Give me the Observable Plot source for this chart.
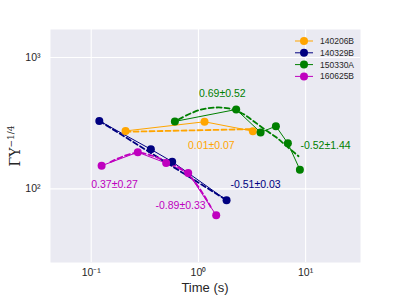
<!DOCTYPE html>
<html><head><meta charset="utf-8">
<script src="https://cdn.jsdelivr.net/npm/d3@7"></script>
<script src="https://cdn.jsdelivr.net/npm/@observablehq/plot@0.6"></script>
<style>body{margin:0;background:#fff}#c{position:relative;width:400px;height:300px}</style>
</head><body><div id="c"></div>
<script>
// ---- data ----
const seriesNames = ["140206B", "140329B", "150330A", "160625B"];
const seriesColors = ["#FFA500", "#000080", "#008000", "#BF00BF"];

const t140206B = [0.209, 1.14, 3.22];
const y140206B = [276, 324, 275];
const t140329B = [0.119, 0.36, 0.569, 1.83];
const y140329B = [329, 200, 161, 82];
const t150330A = [0.603, 2.25, 3.80, 5.28, 6.83, 8.84];
const y150330A = [326, 402, 269, 300, 222, 140];
const t160625B = [0.125, 0.272, 0.50, 0.803, 1.465];
const y160625B = [150, 190, 157, 132, 63];

// fitted (dashed) curves
const fitT140206B = [0.209, 3.22];
const fitY140206B = [272, 285];
const fitT140329B = [0.119, 1.83];
const fitY140329B = [329, 82];
const fitT150330A = [0.656, 1.01, 1.445, 1.92, 2.56, 3.18, 4.23, 5.24, 6.49, 8.59];
const fitY150330A = [339, 397, 416, 409, 375, 333, 280, 249, 215, 177];
const fitT160625B = [0.151, 0.268, 0.512, 0.786, 1.047, 1.30];
const fitY160625B = [160, 188, 161, 131, 98, 73];

// slope annotations
const labelText = ["0.01±0.07", "-0.51±0.03", "0.69±0.52", "-0.52±1.44", "0.37±0.27", "-0.89±0.33"];
const labelSeries = [0, 1, 2, 2, 3, 3];
const labelT = [0.80, 1.99, 1.67, 8.96, 0.100, 0.398];
const labelY = [212, 107, 532, 212, 107, 75];
const labelAnchor = ["start", "start", "middle", "start", "start", "start"];

const xTicks = [0.1, 1, 10];
const xTickLabels = ["10⁻¹", "10⁰", "10¹"];
const yTicks = [100, 1000];
const yTickLabels = ["10²", "10³"];

// ---- tables ----
const ts = [t140206B, t140329B, t150330A, t160625B];
const ys = [y140206B, y140329B, y150330A, y160625B];
const fts = [fitT140206B, fitT140329B, fitT150330A, fitT160625B];
const fys = [fitY140206B, fitY140329B, fitY150330A, fitY160625B];
const pts = [], fits = [];
seriesNames.forEach((s, i) => {
  ts[i].forEach((t, j) => pts.push({s, t, y: ys[i][j]}));
  fts[i].forEach((t, j) => fits.push({s, t, y: fys[i][j]}));
});
const labels = labelText.map((txt, i) => ({txt, s: seriesNames[labelSeries[i]], t: labelT[i], y: labelY[i], a: labelAnchor[i]}));

const font = "Liberation Sans, Arial, sans-serif";
const chart = Plot.plot({
  width: 400, height: 300,
  marginLeft: 50, marginRight: 40, marginTop: 29, marginBottom: 38,
  style: {fontFamily: font, background: "white"},
  x: {type: "log", domain: [0.0417, 32.5]},
  y: {type: "log", domain: [27.5, 1633]},
  color: {domain: seriesNames, range: seriesColors},
  marks: [
    Plot.frame({fill: "#EAEAF2", stroke: null}),
    Plot.ruleX(xTicks, {stroke: "white", strokeWidth: 1.1}),
    Plot.ruleY(yTicks, {stroke: "white", strokeWidth: 1.1}),
    Plot.axisX({ticks: xTicks, tickSize: 0, tickPadding: 6, fontSize: 10.5, fill: "#262626",
      tickFormat: (d) => xTickLabels[xTicks.indexOf(d)], label: null}),
    Plot.axisY({ticks: yTicks, tickSize: 0, tickPadding: 10, fontSize: 10.5, fill: "#262626",
      tickFormat: (d) => yTickLabels[yTicks.indexOf(d)], label: null}),
    Plot.line(pts, {x: "t", y: "y", z: "s", stroke: "s", strokeWidth: 1}),
    Plot.line(fits, {x: "t", y: "y", z: "s", stroke: "s", strokeWidth: 1.8, strokeDasharray: "5,3", curve: "catmull-rom"}),
    Plot.dot(pts, {x: "t", y: "y", fill: "s", r: 4}),
    Plot.text(labels.filter(d => d.a === "start"), {x: "t", y: "y", text: "txt", fill: "s", textAnchor: "start", fontSize: 10.5, fontFamily: font}),
    Plot.text(labels.filter(d => d.a === "middle"), {x: "t", y: "y", text: "txt", fill: "s", textAnchor: "middle", fontSize: 10.5, fontFamily: font})
  ]
});
document.getElementById("c").appendChild(chart);

// axis titles and legend
const svg = d3.select(chart);
svg.append("text").attr("x", 205).attr("y", 292).attr("text-anchor", "middle")
  .attr("font-family", font).attr("font-size", 13).attr("fill", "#262626").text("Time (s)");
const yl = svg.append("text").attr("transform", "translate(20,146) rotate(-90)").attr("text-anchor", "middle")
  .attr("font-family", "DejaVu Serif, serif").attr("font-size", 14).attr("fill", "#262626");
yl.append("tspan").text("ΓY");
yl.append("tspan").attr("dy", -6).attr("font-size", 9).text("−1/4");

const lg = svg.append("g");
seriesNames.forEach((s, i) => {
  const yy = 41 + i * 11.8;
  lg.append("line").attr("x1", 295).attr("x2", 313).attr("y1", yy).attr("y2", yy)
    .attr("stroke", seriesColors[i]).attr("stroke-width", 1);
  lg.append("circle").attr("cx", 304).attr("cy", yy).attr("r", 4).attr("fill", seriesColors[i]);
  lg.append("text").attr("x", 320).attr("y", yy).attr("dy", "0.35em").attr("text-anchor", "start")
    .attr("font-family", font).attr("font-size", 8.5).attr("fill", "#262626").text(s);
});
</script></body></html>
